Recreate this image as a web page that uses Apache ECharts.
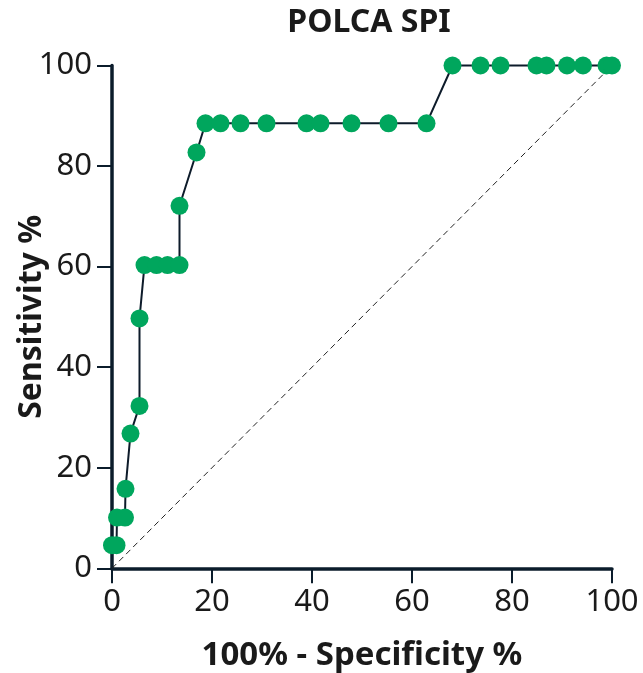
<!DOCTYPE html>
<html>
<head>
<meta charset="utf-8">
<script src="https://cdn.jsdelivr.net/npm/echarts@6/dist/echarts.min.js"></script>
<style>html,body{margin:0;padding:0;background:#fff;}#c{width:643px;height:673px;}</style>
</head>
<body>
<div id="c"></div>
<script>
const titleText = "POLCA SPI";
const xName = "100% - Specificity %";
const yName = "Sensitivity %";
const xTicks = [0, 20, 40, 60, 80, 100];
const yTicks = [0, 20, 40, 60, 80, 100];
const specComp = [0, 0.9, 1.0, 2.6, 2.7, 3.7, 5.5, 5.5, 6.5, 8.9, 11.1, 13.5, 13.5, 16.9,
  18.7, 21.7, 25.7, 30.9, 38.9, 41.7, 47.9, 55.3, 62.9,
  68.1, 73.7, 77.7, 84.9, 86.9, 91.0, 94.2, 98.9, 100];
const sensitivity = [4.6, 4.6, 10.1, 10.1, 15.8, 26.8, 32.3, 49.7, 60.3, 60.3, 60.3, 60.3, 72.1, 82.7,
  88.5, 88.5, 88.5, 88.5, 88.5, 88.5, 88.5, 88.5, 88.5,
  100, 100, 100, 100, 100, 100, 100, 100, 100];
const refX = [0, 100];
const refY = [0, 100];

const FONT = "Noto Sans";
const AX = "#0b1c2b";
const TXT = "#1a1a1a";
const chart = echarts.init(document.getElementById('c'), null, {renderer: 'canvas'});
chart.setOption({
  animation: false,
  backgroundColor: '#fff',
  title: {
    text: titleText, left: 364, top: 2, textAlign: 'center',
    textStyle: {fontFamily: FONT, fontWeight: 'bold', fontSize: 32, color: TXT}
  },
  grid: {left: 112, right: 31, top: 65.5, bottom: 104.7, outerBoundsMode: 'none', containLabel: false},
  xAxis: {
    type: 'value', min: 0, max: 100, interval: 20,
    name: xName, nameLocation: 'middle', nameGap: 71, nameMoveOverlap: false,
    nameTextStyle: {fontFamily: FONT, fontWeight: 'bold', fontSize: 33, color: TXT},
    axisLine: {show: true, onZero: false, lineStyle: {color: AX, width: 3.5}},
    axisTick: {show: true, length: 15, lineStyle: {color: AX, width: 2}},
    axisLabel: {fontFamily: FONT, fontSize: 31, color: TXT, margin: 18,
      formatter: v => xTicks.includes(v) ? String(v) : ''},
    splitLine: {show: false}
  },
  yAxis: {
    type: 'value', min: 0, max: 100, interval: 20,
    name: yName, nameLocation: 'middle', nameGap: 64, nameMoveOverlap: false,
    nameTextStyle: {fontFamily: FONT, fontWeight: 'bold', fontSize: 32, color: TXT},
    axisLine: {show: true, onZero: false, lineStyle: {color: AX, width: 3.5}},
    axisTick: {show: true, length: 15, lineStyle: {color: AX, width: 2}},
    axisLabel: {fontFamily: FONT, fontSize: 31, color: TXT, margin: 20,
      formatter: v => yTicks.includes(v) ? String(v) : ''},
    splitLine: {show: false}
  },
  series: [
    {
      type: 'line', data: refX.map((x, i) => [x, refY[i]]),
      symbol: 'none', silent: true, z: 1,
      lineStyle: {color: '#222', width: 1, type: [6, 4]}
    },
    {
      type: 'line', data: specComp.map((x, i) => [x, sensitivity[i]]),
      symbol: 'circle', symbolSize: 18, clip: false, z: 3,
      lineStyle: {color: '#0d1b2a', width: 2},
      itemStyle: {color: '#00A65D', borderWidth: 0}
    }
  ]
});
</script>
</body>
</html>
